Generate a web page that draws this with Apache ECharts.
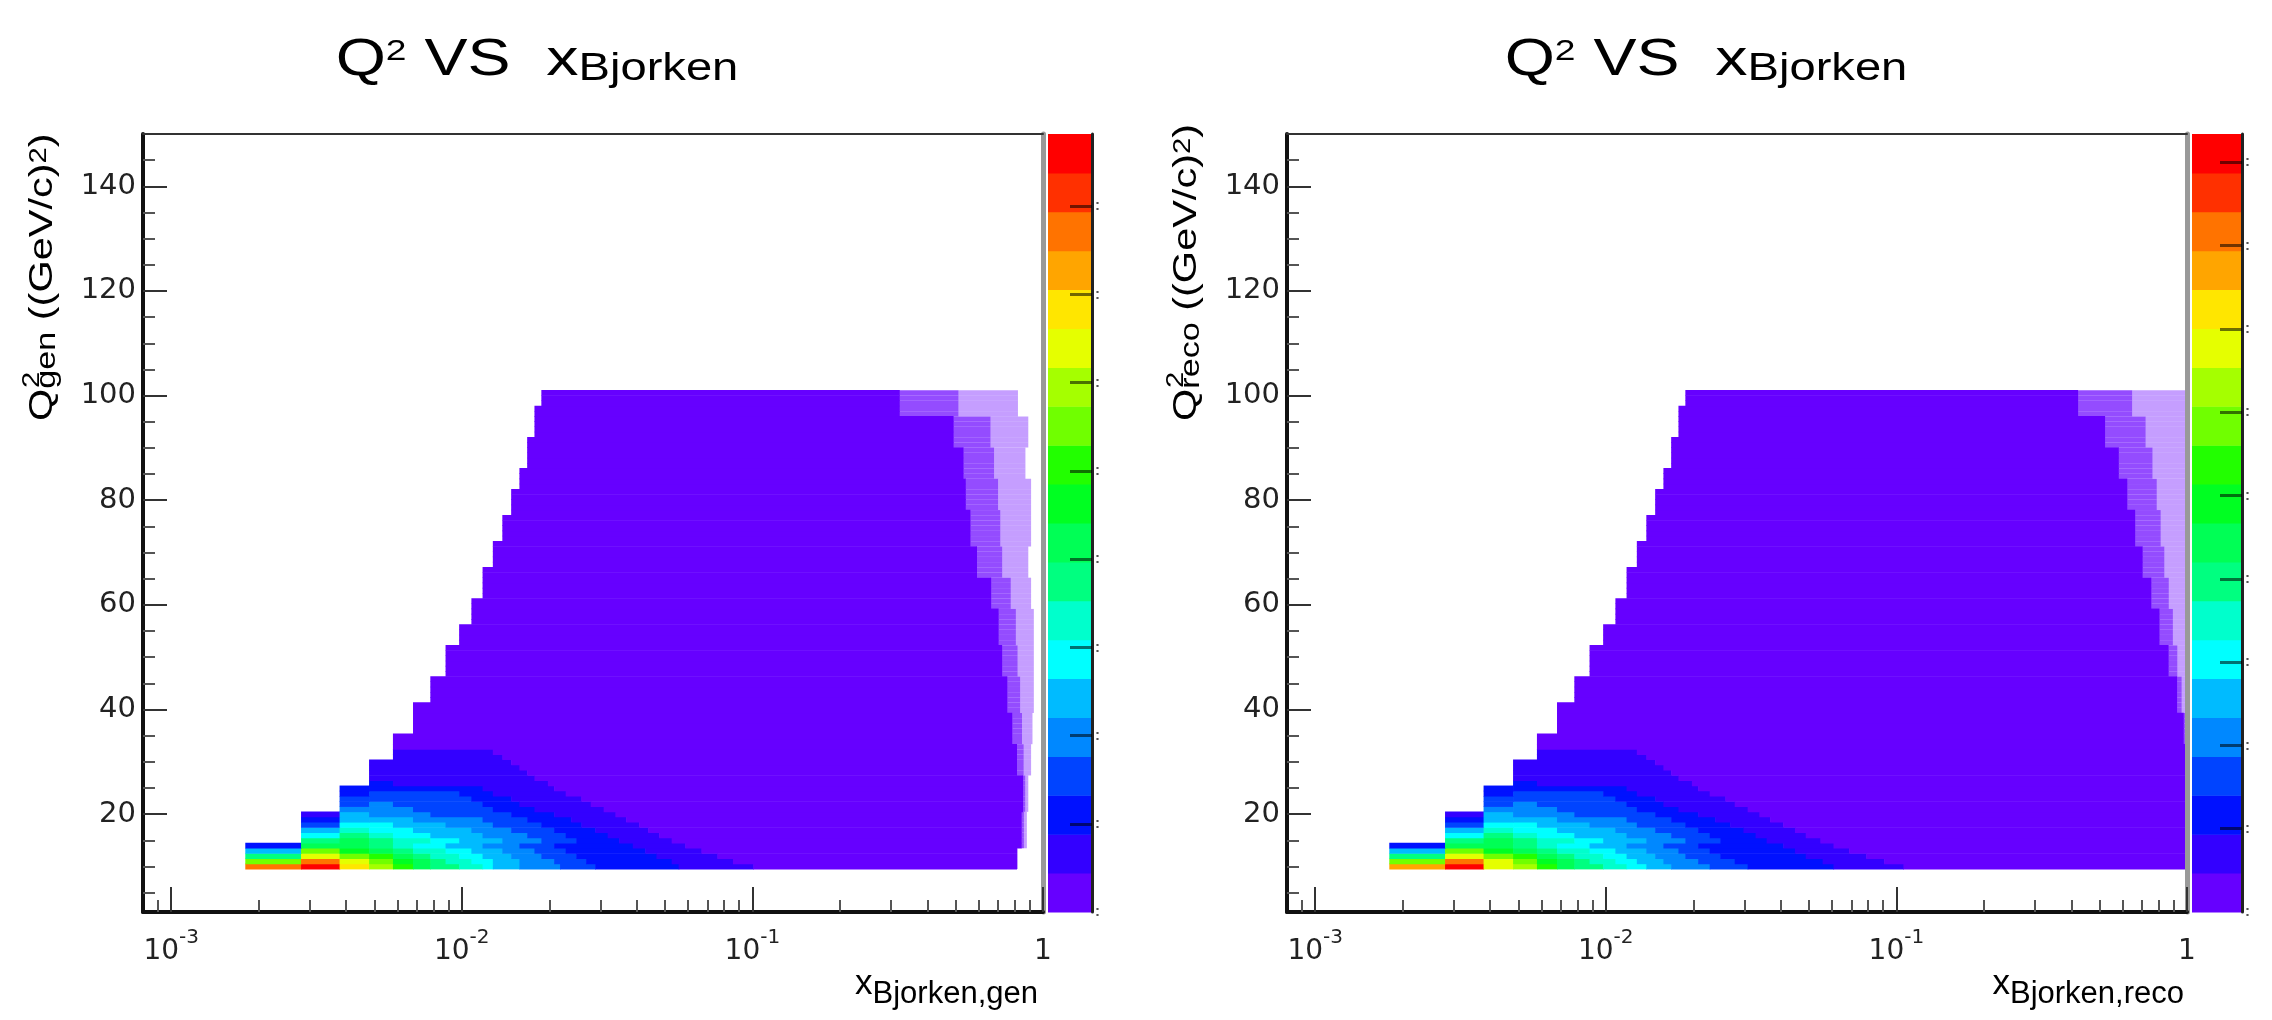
<!DOCTYPE html>
<html>
<head>
<meta charset="utf-8">
<script src="https://cdn.jsdelivr.net/npm/echarts@6/dist/echarts.min.js"></script>
<style>
html,body{margin:0;padding:0;background:#fff;}
#chart{width:2272px;height:1020px;}
</style>
</head>
<body>
<div id="chart"></div>
<script>
// colour levels of the palette, bottom (0) to top (19)
var palette = ['#6600ff','#3300ff','#0011ff','#0044ff','#0088ff','#00bbff','#00ffff','#00ffcc','#00ff80','#00ff55',
               '#00ff22','#22ff00','#70ff00','#a5ff00','#e5ff00','#ffe600','#ffa500','#ff7300','#ff3000','#ff0000'];

// histogram binning
var xBinLo = 0.0008, xBinW = 0.0009992;      // x_Bjorken bins
var q2BinLo = 9.5, q2BinHi = 101.0, q2Rows = 92;

// axis ranges and ticks
var xMin = 0.0008, xMax = 1;
var yMin = 1.3, yMax = 150;
var xMajor = [0.001, 0.01, 0.1, 1];
var xMinor = [0.0009, 0.002, 0.003, 0.004, 0.005, 0.006, 0.007, 0.008, 0.009,
              0.02, 0.03, 0.04, 0.05, 0.06, 0.07, 0.08, 0.09,
              0.2, 0.3, 0.4, 0.5, 0.6, 0.7, 0.8, 0.9];
var yMajor = [20, 40, 60, 80, 100, 120, 140];
var yMinor = [5, 10, 15, 25, 30, 35, 45, 50, 55, 65, 70, 75, 85, 90, 95, 105, 110, 115, 125, 130, 135, 145];

// staircase: rows below stairQ2[i] start at x-bin i+1
var stairQ2 = [14.8, 20.9, 25.5, 31.0, 35.6, 41.8, 46.4, 52.5, 56.3, 61.1, 67.3, 71.9, 77.2, 81.8, 86.5, 91.95, 98.0, 101.1];

// colour bar maxima (thousands of events) and ticks
var zMaxGen = 8.82, zMaxReco = 9.34;
var zTicksGen = [1, 2, 3, 4, 5, 6, 7, 8];
var zTicksReco = [1, 2, 3, 4, 5, 6, 7, 8, 9];
var zLabelsGen = [0, 1, 2, 3, 4, 5, 6, 7, 8];
var zLabelsReco = [0, 1, 2, 3, 4, 5, 6, 7, 8, 9];

// counts (thousands) of the low-x corner, one list per Q2 row starting at 9.5 GeV2
// each entry: [first x-bin of run, count]
var runsGen = [
  [[1,7.7],[2,8.6],[3,6.8],[4,6.0],[5,5.1],[6,4.2],[7,3.7],[9,3.3],[11,2.9],[12,2.4],[15,2.0],[21,1.5],[28,1.1],[55,0.7],[100,0.2]],
  [[1,5.5],[2,7.7],[3,6.4],[4,5.5],[5,4.6],[6,4.2],[7,3.7],[8,3.3],[10,2.9],[12,2.4],[15,2.0],[20,1.5],[26,1.1],[52,0.7],[85,0.2]],
  [[1,3.7],[2,6.4],[3,5.5],[4,5.1],[5,4.2],[6,3.7],[7,3.3],[9,2.9],[11,2.4],[14,2.0],[18,1.5],[24,1.1],[46,0.7],[75,0.2]],
  [[1,2.4],[2,5.5],[3,4.6],[4,4.2],[5,3.7],[6,3.3],[8,2.9],[10,2.4],[13,2.0],[17,1.5],[22,1.1],[42,0.7],[66,0.2]],
  [[1,1.1],[2,4.2],[3,4.2],[4,3.7],[5,3.3],[6,2.9],[8,2.4],[11,2.0],[15,1.5],[20,1.1],[38,0.7],[58,0.2]],
  [[2,3.7],[3,4.2],[4,3.7],[5,3.3],[7,2.9],[9,2.4],[13,2.0],[18,1.5],[24,1.1],[34,0.7],[52,0.2]],
  [[2,2.9],[3,3.7],[4,3.3],[5,2.9],[7,2.4],[11,2.0],[16,1.5],[22,1.1],[31,0.7],[47,0.2]],
  [[2,2.4],[3,3.3],[4,2.9],[6,2.4],[10,2.0],[14,1.5],[20,1.1],[28,0.7],[43,0.2]],
  [[2,1.5],[3,2.9],[4,2.9],[5,2.4],[8,2.0],[12,1.5],[18,1.1],[25,0.7],[40,0.2]],
  [[2,1.1],[3,2.4],[4,2.4],[6,2.0],[11,1.5],[16,1.1],[23,0.7],[36,0.2]],
  [[2,0.7],[3,2.4],[4,2.0],[7,1.5],[14,1.1],[20,0.7],[33,0.2]],
  [[3,2.0],[4,2.0],[6,1.5],[12,1.1],[17,0.7],[30,0.2]],
  [[3,1.5],[4,2.0],[5,1.5],[11,1.1],[15,0.7],[27,0.2]],
  [[3,1.5],[4,1.5],[10,1.1],[14,0.7],[25,0.2]],
  [[3,1.1],[4,1.5],[9,1.1],[12,0.7],[22,0.2]],
  [[3,1.1],[4,1.1],[11,0.7],[20,0.2]],
  [[4,1.1],[5,0.7],[19,0.2]],
  [[4,0.7],[17,0.2]],
  [[4,0.7],[16,0.2]],
  [[4,0.7],[15,0.2]],
  [[4,0.7],[14,0.2]],
  [[5,0.7],[13,0.2]],
  [[5,0.7],[12,0.2]]
];
var runsReco = [
  [[1,7.7],[2,9.1],[3,6.8],[4,6.3],[5,5.4],[6,4.4],[7,4.0],[9,3.5],[11,3.0],[13,2.6],[16,2.1],[22,1.6],[30,1.2],[60,0.7],[105,0.2]],
  [[1,5.8],[2,8.2],[3,6.8],[4,5.8],[5,4.9],[6,4.4],[7,4.0],[8,3.5],[10,3.0],[12,2.6],[15,2.1],[20,1.6],[27,1.2],[55,0.7],[90,0.2]],
  [[1,4.0],[2,6.8],[3,5.8],[4,5.4],[5,4.4],[6,4.0],[7,3.5],[9,3.0],[11,2.6],[14,2.1],[18,1.6],[24,1.2],[48,0.7],[78,0.2]],
  [[1,2.6],[2,5.8],[3,4.9],[4,4.4],[5,4.0],[6,3.5],[8,3.0],[10,2.6],[13,2.1],[17,1.6],[22,1.2],[44,0.7],[68,0.2]],
  [[1,1.2],[2,4.4],[3,4.4],[4,4.0],[5,3.5],[6,3.0],[8,2.6],[11,2.1],[15,1.6],[20,1.2],[40,0.7],[60,0.2]],
  [[2,4.0],[3,4.4],[4,4.0],[5,3.5],[7,3.0],[9,2.6],[13,2.1],[18,1.6],[24,1.2],[35,0.7],[54,0.2]],
  [[2,3.0],[3,4.0],[4,3.5],[5,3.0],[7,2.6],[11,2.1],[16,1.6],[22,1.2],[32,0.7],[48,0.2]],
  [[2,2.6],[3,3.5],[4,3.0],[6,2.6],[10,2.1],[14,1.6],[20,1.2],[29,0.7],[44,0.2]],
  [[2,1.6],[3,3.0],[4,3.0],[5,2.6],[8,2.1],[12,1.6],[18,1.2],[26,0.7],[40,0.2]],
  [[2,1.2],[3,2.6],[4,2.6],[6,2.1],[11,1.6],[16,1.2],[23,0.7],[36,0.2]],
  [[2,0.7],[3,2.6],[4,2.1],[7,1.6],[14,1.2],[20,0.7],[33,0.2]],
  [[3,2.1],[4,2.1],[6,1.6],[12,1.2],[17,0.7],[30,0.2]],
  [[3,1.6],[4,2.1],[5,1.6],[11,1.2],[15,0.7],[27,0.2]],
  [[3,1.6],[4,1.6],[10,1.2],[14,0.7],[25,0.2]],
  [[3,1.2],[4,1.6],[9,1.2],[12,0.7],[22,0.2]],
  [[3,1.2],[4,1.2],[11,0.7],[20,0.2]],
  [[4,1.2],[5,0.7],[19,0.2]],
  [[4,0.7],[17,0.2]],
  [[4,0.7],[16,0.2]],
  [[4,0.7],[15,0.2]],
  [[4,0.7],[14,0.2]],
  [[5,0.7],[13,0.2]],
  [[5,0.7],[12,0.2]]
];
var lowCount = 0.2;

// right edge of the filled area, sampled at these Q2 values
var edgeQ2 = [10, 17, 24, 30, 36, 43, 49, 56, 62, 68, 75, 81, 87, 93, 100];
var solidEndGen = [0.81, 0.84, 0.85, 0.81, 0.78, 0.75, 0.72, 0.70, 0.66, 0.59, 0.56, 0.54, 0.53, 0.49, 0.32];
var edgeGen     = [0.82, 0.88, 0.89, 0.91, 0.92, 0.93, 0.93, 0.93, 0.91, 0.89, 0.91, 0.91, 0.87, 0.89, 0.82];
var solidEndReco = [1.0, 1.0, 1.0, 1.0, 0.97, 0.92, 0.86, 0.80, 0.75, 0.70, 0.66, 0.62, 0.58, 0.52, 0.42];
var edgeReco     = [1.0, 1.0, 1.0, 1.0, 1.0, 1.0, 1.0, 1.0, 1.0, 1.0, 1.0, 1.0, 1.0, 1.0, 1.0];

var FONT = 'Liberation Sans';
var LABEL_FONT = 'DejaVu Sans';

function xEdge(k) { return xBinLo + k * xBinW; }
function firstBin(q) {
  for (var i = 0; i < stairQ2.length; i++) { if (q < stairQ2[i]) return i + 1; }
  return stairQ2.length;
}
function nearest(qs, vals, q) {
  var best = 0;
  for (var i = 1; i < qs.length; i++) { if (Math.abs(qs[i] - q) < Math.abs(qs[best] - q)) best = i; }
  return vals[best];
}

function buildCells(runs, solidEnd, edge) {
  var cells = [];
  var step = (q2BinHi - q2BinLo) / q2Rows;
  for (var j = 0; j < q2Rows; j++) {
    var q0 = q2BinLo + j * step, q1 = q0 + step, qc = (q0 + q1) / 2;
    var k0 = firstBin(qc);
    var xs = nearest(edgeQ2, solidEnd, qc), xe = nearest(edgeQ2, edge, qc);
    var r = runs[j] || [[k0, lowCount]];
    for (var i = 0; i < r.length; i++) {
      var a = xEdge(Math.max(r[i][0], k0));
      var b = i + 1 < r.length ? xEdge(r[i + 1][0]) : xs;
      if (b > xs) b = xs;
      if (a >= b) continue;
      cells.push([a, b, q0, q1, r[i][1], 1]);
    }
    if (xe > xs) {
      // sparse fringe: fuller near the body, thinner at the edge
      var xm = Math.sqrt(xs * xe);
      cells.push([xs, xm, q0, q1, lowCount, 0.7]);
      cells.push([xm, xe, q0, q1, lowCount, 0.38]);
    }
  }
  return cells;
}

function colorOf(v, zmax) {
  var l = Math.floor(v / zmax * 20);
  return palette[Math.max(0, Math.min(19, l))];
}

function cellRenderer(zmax) {
  return function (params, api) {
    var p0 = api.coord([api.value(0), api.value(2)]);
    var p1 = api.coord([api.value(1), api.value(3)]);
    var a = api.value(5);
    var pad = a < 1 ? 0 : 0.3;
    return {
      type: 'rect',
      shape: { x: p0[0], y: p1[1] - pad, width: p1[0] - p0[0] + 2 * pad, height: p0[1] - p1[1] + 2 * pad },
      style: { fill: colorOf(api.value(4), zmax), opacity: a }
    };
  };
}

function barRenderer() {
  return function (params, api) {
    var p0 = api.coord([0, api.value(0)]);
    var p1 = api.coord([1, api.value(1)]);
    return {
      type: 'rect',
      shape: { x: p0[0], y: p1[1], width: p1[0] - p0[0], height: p0[1] - p1[1] + 0.5 },
      style: { fill: palette[api.value(2)] }
    };
  };
}

function powLabel(v) {
  var e = Math.round(Math.log(v) / Math.LN10);
  return e === 0 ? '{b|1}' : '{b|10}{s|' + e + '}';
}

var grids = [], xAxes = [], yAxes = [], series = [];

function addPanel(left, cbLeft, cbWidth, zmax, zticks, zlabels, runs, solidEnd, edge) {
  var g = grids.length;
  grids.push({ left: left, top: 134, width: 900, height: 778, outerBoundsMode: 'none' });
  grids.push({ left: cbLeft, top: 134, width: cbWidth, height: 778, outerBoundsMode: 'none' });
  var xi = xAxes.length, yi = yAxes.length;
  // main x axis
  xAxes.push({
    type: 'log', gridIndex: g, min: xMin, max: xMax, position: 'bottom', z: 5,
    axisLine: { lineStyle: { color: '#111', width: 4 } },
    axisTick: { inside: true, length: 25, customValues: xMajor, lineStyle: { color: '#333', width: 2 } },
    axisLabel: {
      customValues: xMajor, formatter: powLabel, margin: 16, color: '#222',
      rich: {
        b: { fontFamily: LABEL_FONT, fontSize: 28, color: '#222', lineHeight: 38, verticalAlign: 'bottom' },
        s: { fontFamily: LABEL_FONT, fontSize: 20, color: '#222', lineHeight: 20, verticalAlign: 'top' }
      }
    },
    splitLine: { show: false }
  });
  xAxes.push({
    type: 'log', gridIndex: g, min: xMin, max: xMax, position: 'bottom', z: 5,
    axisLine: { show: false },
    axisTick: { inside: true, length: 12, customValues: xMinor, lineStyle: { color: '#555', width: 2 } },
    axisLabel: { show: false }, splitLine: { show: false }
  });
  xAxes.push({
    type: 'log', gridIndex: g, min: xMin, max: xMax, position: 'top', z: 5,
    axisLine: { lineStyle: { color: '#333', width: 2 } },
    axisTick: { show: false }, axisLabel: { show: false }, splitLine: { show: false }
  });
  xAxes.push({ type: 'value', gridIndex: g + 1, min: 0, max: 1, show: false });
  // y axes
  yAxes.push({
    type: 'value', gridIndex: g, min: yMin, max: yMax, position: 'left', z: 5,
    axisLine: { show: true, lineStyle: { color: '#111', width: 4 } },
    axisTick: { inside: true, length: 24, customValues: yMajor, lineStyle: { color: '#333', width: 2 } },
    axisLabel: { customValues: yMajor, margin: 7, color: '#222', fontFamily: LABEL_FONT, fontSize: 29 },
    splitLine: { show: false }
  });
  yAxes.push({
    type: 'value', gridIndex: g, min: yMin, max: yMax, position: 'left', z: 5,
    axisLine: { show: false },
    axisTick: { inside: true, length: 12, customValues: yMinor, lineStyle: { color: '#555', width: 2 } },
    axisLabel: { show: false }, splitLine: { show: false }
  });
  yAxes.push({
    type: 'value', gridIndex: g, min: yMin, max: yMax, position: 'right', z: 5,
    axisLine: { show: true, onZero: false, lineStyle: { color: '#999', width: 5 } },
    axisTick: { show: false }, axisLabel: { show: false }, splitLine: { show: false }
  });
  // colour bar axis; its labels fall outside the pad, only a sliver is left
  yAxes.push({
    type: 'value', gridIndex: g + 1, min: 0, max: zmax, position: 'right', z: 5,
    axisLine: { show: true, onZero: false, lineStyle: { color: '#222', width: 3 } },
    axisTick: { inside: true, length: 22, customValues: zticks, lineStyle: { color: 'rgba(0,0,0,0.55)', width: 3 } },
    axisLabel: { customValues: zlabels, formatter: function () { return ':'; }, margin: 3,
      color: '#555', fontFamily: FONT, fontSize: 15, fontWeight: 'bold' },
    splitLine: { show: false }
  });

  series.push({
    type: 'custom', xAxisIndex: xi, yAxisIndex: yi, clip: true, silent: true,
    encode: { x: [0, 1], y: [2, 3] },
    renderItem: cellRenderer(zmax),
    data: buildCells(runs, solidEnd, edge)
  });
  var bands = [];
  for (var l = 0; l < 20; l++) bands.push([l * zmax / 20, (l + 1) * zmax / 20, l]);
  series.push({
    type: 'custom', xAxisIndex: xi + 3, yAxisIndex: yi + 3, silent: true,
    encode: { x: -1, y: [0, 1] },
    renderItem: barRenderer(),
    data: bands
  });
}

addPanel(143, 1048, 44, zMaxGen, zTicksGen, zLabelsGen, runsGen, solidEndGen, edgeGen);
addPanel(1287, 2192, 50, zMaxReco, zTicksReco, zLabelsReco, runsReco, solidEndReco, edgeReco);

var titleRich = {
  m: { fontFamily: FONT, fontSize: 52, lineHeight: 52, padding: [8, 0, 12, 0], color: '#000' },
  p: { fontFamily: FONT, fontSize: 30, lineHeight: 30, verticalAlign: 'top', color: '#000' },
  b: { fontFamily: FONT, fontSize: 38, lineHeight: 38, verticalAlign: 'bottom', color: '#000' }
};
var yRich = {
  m: { fontFamily: FONT, fontSize: 34, lineHeight: 34, padding: [6, 0, 8, 0], color: '#000' },
  p: { fontFamily: FONT, fontSize: 24, lineHeight: 24, verticalAlign: 'top', color: '#000' },
  b: { fontFamily: FONT, fontSize: 28, lineHeight: 28, verticalAlign: 'bottom', color: '#000' }
};
var xRich = {
  m: { fontFamily: FONT, fontSize: 35, lineHeight: 35, padding: [0, 0, 15, 0], color: '#000' },
  b: { fontFamily: FONT, fontSize: 31, lineHeight: 31, verticalAlign: 'bottom', color: '#000' }
};

function titleText(cx) {
  return { type: 'text', x: cx, y: 63, scaleX: 1.24, silent: true,
    style: { text: '{m|Q}{p|2}{m| VS  x}{b|Bjorken}', rich: titleRich, align: 'center', verticalAlign: 'middle' } };
}
// rotated axis title, written upwards from the bottom of Q
function yTitle(x, sub) {
  return [
    { type: 'text', x: x, y: 421, rotation: Math.PI / 2, scaleX: 1.22, silent: true,
      style: { text: '{m|Q}{b|' + sub + '}{m| ((GeV/c)}{p|2}{m|)}', rich: yRich, align: 'left', verticalAlign: 'middle' } },
    { type: 'text', x: x - 12, y: 388, rotation: Math.PI / 2, scaleX: 1.22, silent: true,
      style: { text: '2', fill: '#000', font: '24px "' + FONT + '"', align: 'left', verticalAlign: 'middle' } }
  ];
}
function xTitle(x, sub) {
  return { type: 'text', x: x, y: 992, silent: true,
    style: { text: '{m|x}{b|' + sub + '}', rich: xRich, align: 'right', verticalAlign: 'middle' } };
}

var chart = echarts.init(document.getElementById('chart'), null, { renderer: 'canvas' });
chart.setOption({
  animation: false,
  backgroundColor: '#fff',
  grid: grids,
  xAxis: xAxes,
  yAxis: yAxes,
  series: series,
  graphic: [titleText(537), titleText(1706), xTitle(1038, 'Bjorken,gen'), xTitle(2184, 'Bjorken,reco')]
    .concat(yTitle(44, 'gen'), yTitle(1188, 'reco'))
});
</script>
</body>
</html>
